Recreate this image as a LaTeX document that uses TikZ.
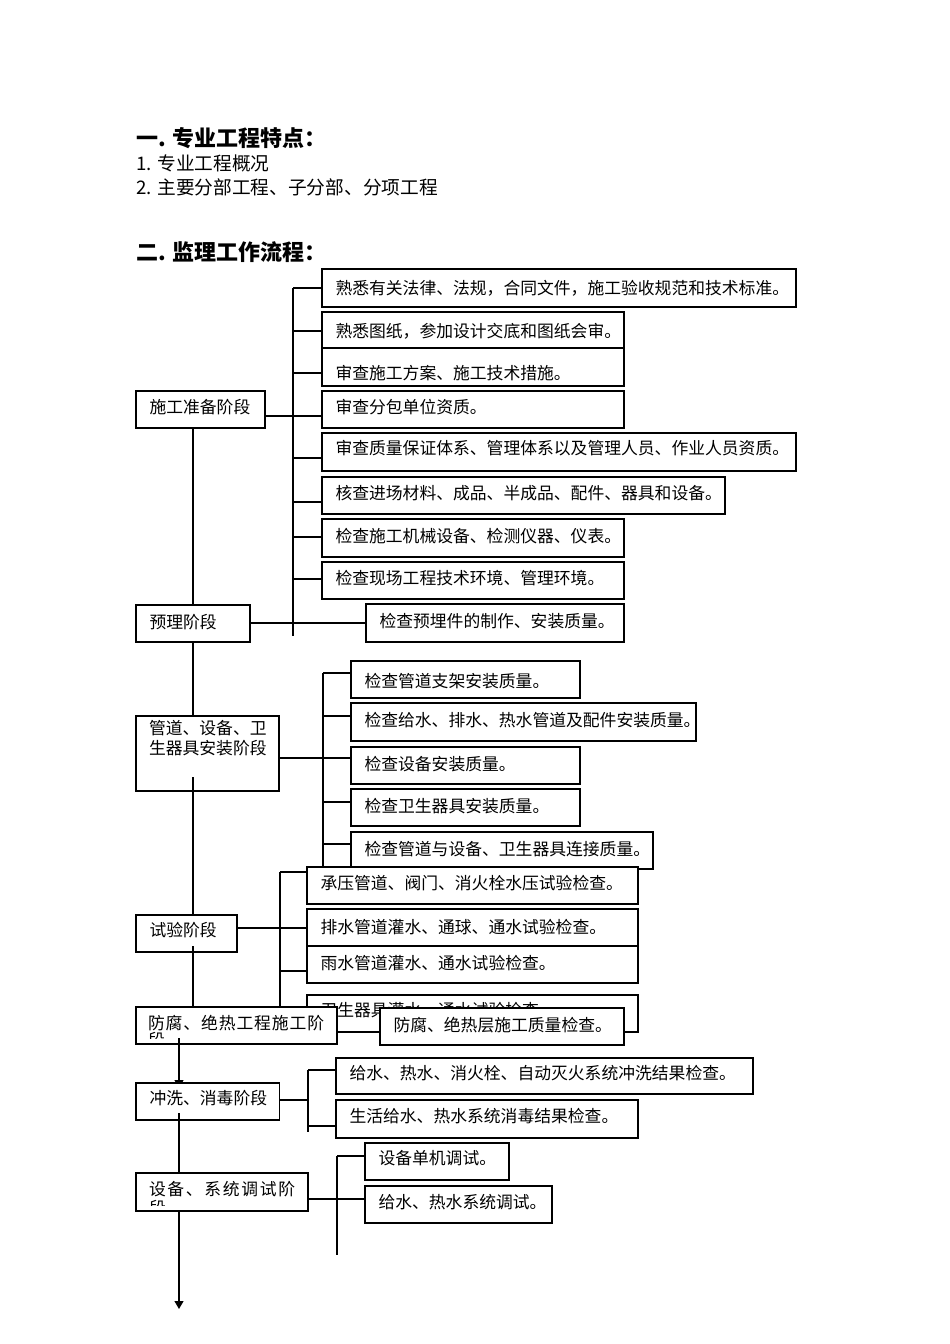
\documentclass[tikz,border=0pt]{standalone}
\usepackage{fontspec}
\newfontfamily\cjk{Noto Sans CJK SC}
\usetikzlibrary{calc,arrows.meta}
\pgfdeclarelayer{bg}
\pgfdeclarelayer{fg}
\pgfsetlayers{bg,main,fg}
\tikzset{
  box/.style={draw=black, fill=white, line width=1.2pt, inner sep=0pt, outer sep=0pt, anchor=north west},
  txt/.style={anchor=base west, inner sep=0pt, outer sep=0pt, font=\cjk\fontsize{16.8}{19}\selectfont},
  ln/.style={draw=black, line width=1.2pt},
  arr/.style={ln, -{Triangle[width=9pt,length=8pt]}},
  head/.style={anchor=base west, inner sep=0pt, font=\cjk\bfseries\fontsize{22}{26}\selectfont},
  body/.style={anchor=base west, inner sep=0pt, font=\cjk\fontsize{18.7}{22}\selectfont},
}
% box with one line of text: name, x1, y1, x2, y2, text centre y, text
\newcommand\bt[7]{%
  \pgfmathsetmacro\mybw{#4-#2}%
  \pgfmathsetmacro\mybh{#5-#3}%
  \pgfmathsetmacro\myty{#6+6.4-#3}%
  \node[box,minimum width=\mybw pt,minimum height=\mybh pt] (#1) at (#2,#3) {};
  \node[txt] (#1t) at ($(#1.north west)+(13.5,\myty)$) {#7};
}
\begin{document}
\begin{tikzpicture}[x=1pt,y=-1pt]
\useasboundingbox (0,0) rectangle (950,1344);

% headings
\node[head] (h1) at (136,146.4) {一. 专业工程特点：};
\node[body] (h2) at (136,170) {1. 专业工程概况};
\node[body] (h3) at (136,194) {2. 主要分部工程、子分部、分项工程};
\node[head] (h4) at (136,260.4) {二. 监理工作流程：};

% ---------- boxes ----------
\bt{b1}{322}{269}{796}{307}{288}{熟悉有关法律、法规，合同文件，施工验收规范和技术标准。}
\bt{b2}{322}{312}{624}{348}{331}{熟悉图纸，参加设计交底和图纸会审。}
\bt{b3}{322}{348}{624}{386}{373}{审查施工方案、施工技术措施。}
\bt{b4}{322}{391}{624}{428}{407}{审查分包单位资质。}
\bt{b5}{322}{433}{796}{471}{448}{审查质量保证体系、管理体系以及管理人员、作业人员资质。}
\bt{b6}{322}{477}{725}{514}{493}{核查进场材料、成品、半成品、配件、器具和设备。}
\bt{b7}{322}{519}{624}{557}{536}{检查施工机械设备、检测仪器、仪表。}
\bt{b8}{322}{562}{624}{599}{578}{检查现场工程技术环境、管理环境。}
\bt{b9}{366}{604}{624}{642}{621}{检查预埋件的制作、安装质量。}

\bt{p1}{136}{391}{265}{428}{407}{施工准备阶段}
\bt{p2}{136}{605}{250}{642}{622}{预理阶段}
\node[box,minimum width=143pt,minimum height=75pt] (p3) at (136,716) {};
\node[txt] (p3a) at (149,734.4) {管道、设备、卫};
\node[txt] (p3b) at (149,754.4) {生器具安装阶段};

\bt{c1}{351}{661}{580}{698}{681}{检查管道支架安装质量。}
\bt{c2}{351}{703}{696}{741}{720}{检查给水、排水、热水管道及配件安装质量。}
\bt{c3}{351}{747}{580}{784}{764}{检查设备安装质量。}
\bt{c4}{351}{789}{580}{826}{806}{检查卫生器具安装质量。}
\bt{c5}{351}{832}{653}{869}{849}{检查管道与设备、卫生器具连接质量。}

\bt{p4}{136}{915}{237}{952}{930}{试验阶段}
\bt{d1}{307}{867}{638}{904}{883}{承压管道、阀门、消火栓水压试验检查。}
\bt{d2}{307}{909}{638}{946}{927}{排水管道灌水、通球、通水试验检查。}
\bt{d3}{307}{946}{638}{983}{963}{雨水管道灌水、通水试验检查。}
\bt{d4}{307}{995}{638}{1032}{1010}{卫生器具灌水、通水试验检查。}

\node[box,minimum width=201pt,minimum height=37pt] (p5) at (136,1007) {};
\node[txt,font=\cjk\fontsize{16.8}{19}\selectfont\addfontfeatures{LetterSpace=5.4}] (p5a) at (148,1029.4) {防腐、绝热工程施工阶};
\begin{scope}
  \clip ($(p5.north west)+(1,1)$) rectangle ($(p5.south east)+(-1,-6)$);
  \node[txt] (p5b) at (148,1046) {段};
\end{scope}
\bt{e1}{380}{1008}{624}{1045}{1025}{防腐、绝热层施工质量检查。}

\bt{p6}{136}{1083}{279.5}{1120}{1098}{冲洗、消毒阶段}
\bt{f1}{336}{1058}{753}{1094}{1073}{给水、热水、消火栓、自动灭火系统冲洗结果检查。}
\bt{f2}{336}{1100}{638}{1138}{1116}{生活给水、热水系统消毒结果检查。}

\node[box,minimum width=172pt,minimum height=38pt] (p7) at (136,1173) {};
\node[txt,font=\cjk\fontsize{16.8}{19}\selectfont\addfontfeatures{LetterSpace=10}] (p7a) at (149,1195.4) {设备、系统调试阶};
\begin{scope}
  \clip ($(p7.north west)+(1,1)$) rectangle ($(p7.south east)+(-1,-6)$);
  \node[txt] (p7b) at (149,1214) {段};
\end{scope}
\bt{g1}{365}{1143}{509}{1180}{1158}{设备单机调试。}
\bt{g2}{365}{1186}{552}{1223}{1202}{给水、热水系统调试。}

% ---------- connectors (under the boxes) ----------
\begin{pgfonlayer}{bg}
  \coordinate (mx) at (193,0);
  \coordinate (nx) at (179,0);
  \draw[ln] (p1.south -| mx) -- (p2.north -| mx);
  \draw[ln] (p2.south -| mx) -- (p3.north -| mx);
  \draw[arr] (p5.south -| nx) -- ($(p6.north -| nx)+(0,5)$);
  \draw[ln] (p6.south -| nx) -- (p7.north -| nx);
  \coordinate (endpt) at (179,1309);
  \draw[arr] (p7.south -| nx) -- (endpt);

  % group B
  \coordinate (bA) at (293,288);
  \coordinate (bZ) at (293,636);
  \draw[ln] (bA) -- (bZ);
  \foreach \yy/\nm in {288/b1,331/b2,373/b3,416/b4,458/b5,502/b6,537/b7,579/b8}{
    \coordinate (s) at (293,\yy);
    \draw[ln] (s) -- (s -| \nm.west);
  }
  \coordinate (jp1) at (293,416);
  \draw[ln] (jp1 -| p1.east) -- (jp1 -| b4.west);
  \coordinate (jp2) at (293,623);
  \draw[ln] (jp2 -| p2.east) -- (jp2 -| b9.west);

  % group C
  \coordinate (cA) at (323,673);
  \coordinate (cZ) at (323,875);
  \draw[ln] (cA) -- (cZ);
  \foreach \yy/\nm in {673/c1,716/c2,758/c3,802/c4,844/c5}{
    \coordinate (s) at (323,\yy);
    \draw[ln] (s) -- (s -| \nm.west);
  }
  \coordinate (jp3) at (323,758);
  \draw[ln] (jp3 -| p3.east) -- (jp3);

  % group D
  \coordinate (dA) at (280,872);
  \coordinate (dZ) at (280,1015);
  \draw[ln] (dA) -- (dZ);
  \foreach \yy/\nm in {872/d1,928/d2,971/d3}{
    \coordinate (s) at (280,\yy);
    \draw[ln] (s) -- (s -| \nm.west);
  }
  \coordinate (jp4) at (280,928);
  \draw[ln] (jp4 -| p4.east) -- (jp4);

  % group F
  \coordinate (fA) at (308,1070);
  \coordinate (fZ) at (308,1132);
  \draw[ln] (fA) -- (fZ);
  \draw[ln] (fA) -- (fA -| f1.west);
  \coordinate (sf2) at (308,1126);
  \draw[ln] (sf2) -- (sf2 -| f2.west);
  \coordinate (jp6) at (308,1100);
  \draw[ln] (jp6 -| p6.east) -- (jp6);

  % group G
  \coordinate (gA) at (337,1156);
  \coordinate (gZ) at (337,1255);
  \draw[ln] (gA) -- (gZ);
  \draw[ln] (gA) -- (gA -| g1.west);
  \coordinate (jp7) at (337,1199);
  \draw[ln] (jp7 -| p7.east) -- (jp7 -| g2.west);
\end{pgfonlayer}

% ---------- trunk pieces that start inside a box ----------
\begin{pgfonlayer}{fg}
  \coordinate (m3) at (193,777);
  \draw[ln] (m3) -- (p4.north -| mx);
  \coordinate (m4) at (193,946);
  \draw[ln] (m4) -- (p5.north -| mx);
  \coordinate (m5) at (179,1038);
  \draw[ln] (m5) -- (p5.south -| nx);
  \coordinate (m6) at (179,1113);
  \draw[ln] (m6) -- (p6.south -| nx);
\end{pgfonlayer}
\end{tikzpicture}
\end{document}
